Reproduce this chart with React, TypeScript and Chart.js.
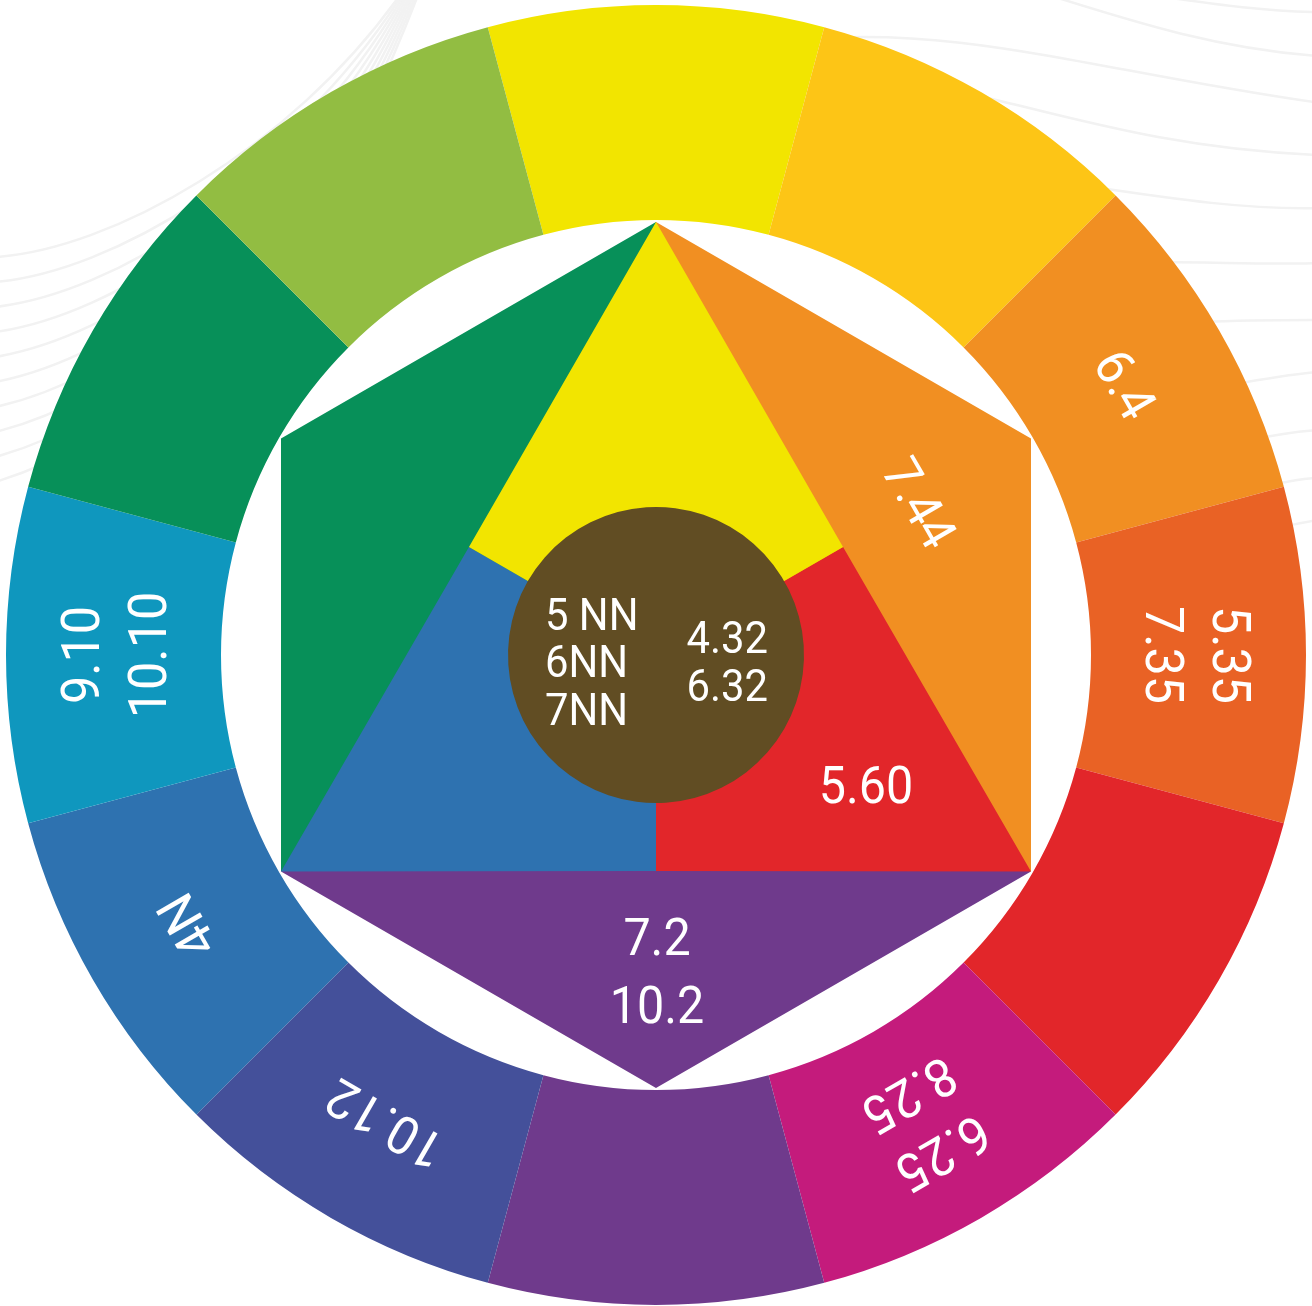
import { useEffect, useRef } from "react";
import { Chart, registerables } from "chart.js";

Chart.register(...registerables);

// outer ring, clockwise from the top
const ringHues = ["Yellow", "Yellow-orange", "Orange", "Red-orange", "Red", "Red-violet", "Violet", "Blue-violet", "Blue", "Blue-green", "Green", "Yellow-green"];
const ringShares = [1, 1, 1, 1, 1, 1, 1, 1, 1, 1, 1, 1];
const ringCodes = [[], [], ["6.4"], ["5.35", "7.35"], [], ["6.25", "8.25"], [], ["10.12"], ["4N"], ["9.10", "10.10"], [], []];
const ringColors = ["#f2e500", "#fdc516", "#f18f22", "#e96225", "#e2262a", "#c41b7c", "#6f3a8c", "#44509a", "#2e72b0", "#0f97be", "#079059", "#92bd42"];

// ring band, white gap, centre disc (radius units, outside in)
const bandWeights = [215, 287, 148];

// hexagon: six spokes, each value is the distance from the centre
const hexSpokes = ["0°", "60°", "120°", "180°", "240°", "300°"];
const yellowCore = [433, 216, 0, 0, 0, 216];
const redCore = [0, 216, 433, 216, 0, 0];
const blueCore = [0, 0, 0, 216, 433, 216];
const orangeSide = [433, 433, 433, 0, 0, 0];
const violetSide = [0, 0, 433, 433, 433, 0];
const greenSide = [433, 0, 0, 0, 433, 433];

const orangeCode = ["7.44"];
const redCode = ["5.60"];
const violetCodes = ["7.2", "10.2"];
const centreCodesLeft = ["5 NN", "6NN", "7NN"];
const centreCodesRight = ["4.32", "6.32"];

const FONT = "Roboto, 'DejaVu Sans', sans-serif";
const PAD = { left: 6, right: 6, top: 5, bottom: 1 };

// faint wavy background strokes
const waveCurves = [
    [1150, -5, 1220, 5, 1270, 12, 1320, 12],
    [1000, -20, 1100, 10, 1200, 48, 1320, 56],
    [800, 40, 960, 24, 1100, 72, 1320, 103],
    [980, 96, 1080, 120, 1180, 150, 1320, 155],
    [1080, 185, 1180, 200, 1250, 210, 1320, 208],
    [1150, 262, 1220, 262, 1270, 265, 1320, 263],
    [1200, 322, 1250, 320, 1290, 320, 1320, 320],
    [1230, 385, 1270, 378, 1300, 373, 1320, 372],
    [1250, 440, 1280, 434, 1300, 431, 1320, 430],
    [1260, 487, 1290, 481, 1305, 478, 1320, 478],
    [1270, 530, 1295, 524, 1308, 521, 1320, 520],
];

function drawLines(ctx: CanvasRenderingContext2D, lines: string[], x: number, y: number, angle: number, size: number, gap: number, align: CanvasTextAlign = "center") {
    ctx.save();
    ctx.translate(x, y);
    ctx.rotate(angle);
    ctx.font = `${size}px ${FONT}`;
    ctx.fillStyle = "#ffffff";
    ctx.textAlign = align;
    ctx.textBaseline = "alphabetic";
    lines.forEach((t, i) => {
        const dy = (i - (lines.length - 1) / 2) * gap;
        ctx.save();
        ctx.translate(0, dy + size * 0.355);
        ctx.scale(0.95, 1);
        ctx.fillText(t, 0, 0);
        ctx.restore();
    });
    ctx.restore();
}

const wavesPlugin = {
    id: "waves",
    beforeDraw(chart: Chart) {
        const ctx = chart.ctx;
        ctx.save();
        ctx.strokeStyle = "#f2f2f2";
        ctx.lineWidth = 2.5;
        waveCurves.forEach((c) => {
            ctx.beginPath();
            ctx.moveTo(c[0], c[1]);
            ctx.bezierCurveTo(c[2], c[3], c[4], c[5], c[6], c[7]);
            ctx.stroke();
        });
        for (let k = 0; k < 10; k++) {
            ctx.beginPath();
            ctx.moveTo(-5, 257 + 25 * k);
            ctx.bezierCurveTo(110, 250 + 22 * k, 290, 150 + 20 * k, 400 + 2 * k, -5);
            ctx.stroke();
        }
        ctx.restore();
    },
};

const innerLabelsPlugin = {
    id: "innerLabels",
    afterDatasetsDraw(chart: Chart) {
        const ctx = chart.ctx;
        const r: any = chart.scales.r;
        const cx = r.xCenter;
        const cy = r.yCenter;
        const p = r.getPointPositionForValue(1, 305);
        drawLines(ctx, orangeCode, p.x, p.y, r.getIndexAngle(1), 51, 0);
        drawLines(ctx, redCode, cx + 210, cy + 130, 0, 51, 0);
        drawLines(ctx, violetCodes, cx + 1, cy + 316, 0, 51, 68);
    },
};

const ringLabelsPlugin = {
    id: "ringLabels",
    afterDatasetsDraw(chart: Chart) {
        const ctx = chart.ctx;
        chart.getDatasetMeta(0).data.forEach((el: any, i) => {
            const lines = ringCodes[i];
            if (!lines.length) return;
            const { x, y } = el.getCenterPoint();
            const angle = (el.startAngle + el.endAngle) / 2 + Math.PI / 2;
            drawLines(ctx, lines, x, y, angle, 53, 67);
        });
        const disc: any = chart.getDatasetMeta(2).data[0];
        drawLines(ctx, centreCodesLeft, disc.x - 111, disc.y + 6.5, 0, 44, 47.5, "left");
        drawLines(ctx, centreCodesRight, disc.x + 112, disc.y + 6.5, 0, 44, 47.5, "right");
    },
};

function poly(label: string, data: number[], color: string) {
    return {
        label,
        data,
        backgroundColor: color,
        borderColor: color,
        borderWidth: 0,
        fill: true,
        pointRadius: 0,
        pointHoverRadius: 0,
    };
}

export default function App() {
    const hexRef = useRef<HTMLCanvasElement>(null);
    const ringRef = useRef<HTMLCanvasElement>(null);

    useEffect(() => {
        if (!hexRef.current || !ringRef.current) return;

        const hex = new Chart(hexRef.current, {
            type: "radar",
            data: {
                labels: hexSpokes,
                datasets: [
                    poly("Yellow", yellowCore, "#f2e500"),
                    poly("Red", redCore, "#e2262a"),
                    poly("Blue", blueCore, "#2e72b0"),
                    poly("Orange", orangeSide, "#f18f22"),
                    poly("Violet", violetSide, "#6f3a8c"),
                    poly("Green", greenSide, "#079059"),
                ],
            },
            options: {
                responsive: false,
                animation: false,
                events: [],
                layout: { padding: PAD },
                elements: { line: { tension: 0 } },
                plugins: { legend: { display: false }, tooltip: { enabled: false } },
                scales: {
                    r: { display: false, min: 0, max: 650, startAngle: 0 },
                },
            },
            plugins: [wavesPlugin, innerLabelsPlugin],
        });

        const ring = new Chart(ringRef.current, {
            type: "doughnut",
            data: {
                labels: ringHues,
                datasets: [
                    { data: ringShares, backgroundColor: ringColors, weight: bandWeights[0] },
                    { data: [1], backgroundColor: "rgba(0,0,0,0)", weight: bandWeights[1] },
                    { data: [1], backgroundColor: "#614d23", weight: bandWeights[2] },
                ],
            },
            options: {
                responsive: false,
                animation: false,
                events: [],
                cutout: 0,
                rotation: -15,
                layout: { padding: PAD },
                elements: { arc: { borderWidth: 0, hoverBorderWidth: 0, hoverOffset: 0, offset: 0 } },
                plugins: { legend: { display: false }, tooltip: { enabled: false } },
            },
            plugins: [ringLabelsPlugin],
        });

        return () => {
            hex.destroy();
            ring.destroy();
        };
    }, []);

    const layer: React.CSSProperties = { position: "absolute", left: 0, top: 0 };
    return (
        <div style={{ position: "absolute", left: 0, top: 0, width: 1312, height: 1306, background: "#ffffff" }}>
            <canvas ref={hexRef} width={1312} height={1306} style={layer}></canvas>
            <canvas ref={ringRef} width={1312} height={1306} style={layer}></canvas>
        </div>
    );
}
